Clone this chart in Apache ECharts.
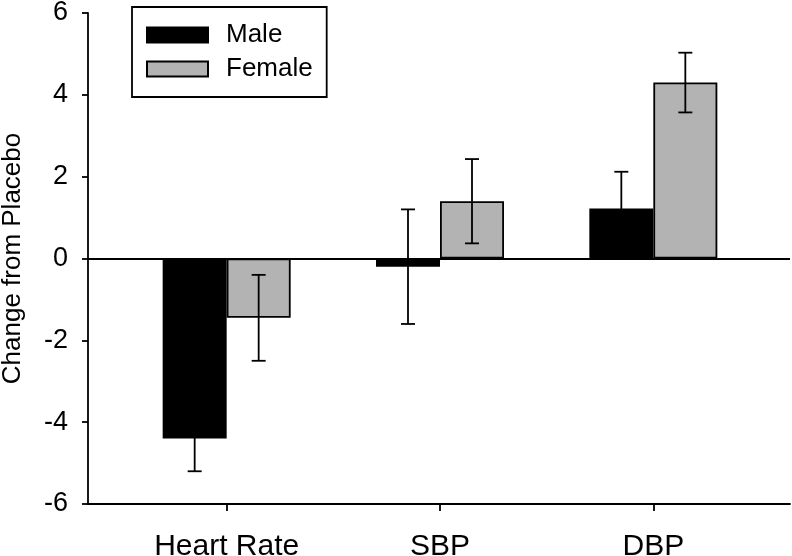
<!DOCTYPE html>
<html>
<head>
<meta charset="utf-8">
<script src="https://cdn.jsdelivr.net/npm/echarts@6/dist/echarts.min.js"></script>
<style>
  html, body { margin: 0; padding: 0; background: #fff; }
  #chart { width: 792px; height: 556px; }
</style>
</head>
<body>
<div id="chart"></div>
<script>
// data
const categories = ['Heart Rate', 'SBP', 'DBP']
const maleValues = [-4.4, -0.2, 1.22]
const maleErrors = [0.8, 1.4, 0.9]
const femaleValues = [-1.45, 1.4, 4.3]
const femaleErrors = [1.05, 1.03, 0.73]
const yMin = -6
const yMax = 6
const yStep = 2

const FONT = 'Liberation Sans, Arial, sans-serif'
const GRAY = '#b3b3b3'

// error bar drawn at the centre of one bar of the pair
const errorSeries = (name, means, errs, side) => ({
  name: name + ' err',
  type: 'custom',
  xAxisIndex: 1,
  yAxisIndex: 1,
  z: 5,
  data: means.map((m, i) => [i, m, errs[i]]),
  encode: { x: 0, y: 1 },
  renderItem: (params, api) => {
    const idx = api.value(0)
    const mean = api.value(1)
    const err = api.value(2)
    const band = api.size([1, 0])[0]
    const x = api.coord([idx, mean])[0] + side * band * 0.15
    const yTop = api.coord([idx, mean + err])[1]
    const yBot = api.coord([idx, mean - err])[1]
    const cap = 7
    const style = { stroke: '#000', lineWidth: 1.8 }
    return {
      type: 'group',
      children: [
        { type: 'line', shape: { x1: x, y1: yTop, x2: x, y2: yBot }, style },
        { type: 'line', shape: { x1: x - cap, y1: yTop, x2: x + cap, y2: yTop }, style },
        { type: 'line', shape: { x1: x - cap, y1: yBot, x2: x + cap, y2: yBot }, style }
      ]
    }
  }
})

const chart = echarts.init(document.getElementById('chart'))
chart.setOption({
  animation: false,
  backgroundColor: '#fff',
  textStyle: { fontFamily: FONT, color: '#000' },
  legend: {
    data: ['Male', 'Female'],
    orient: 'vertical',
    left: 132,
    top: 7,
    padding: [15, 14, 15, 14],
    itemGap: 8,
    itemWidth: 61,
    itemHeight: 15,
    borderColor: '#000',
    borderWidth: 1.8,
    icon: 'rect',
    textStyle: { fontFamily: FONT, fontSize: 26, color: '#000', padding: [0, 0, 0, 13] }
  },
  grid: [
    // frame grid: full-width axis lines
    { left: 88, right: 2, top: 13, bottom: 52, outerBoundsMode: 'none', containLabel: false },
    // data grid: category bands
    { left: 120, right: 32, top: 13, bottom: 52, outerBoundsMode: 'none', containLabel: false }
  ],
  xAxis: [
    {
      gridIndex: 0,
      type: 'value',
      min: 0,
      max: 1,
      axisLine: { show: true, onZero: false, lineStyle: { color: '#000', width: 1.8 } },
      axisTick: { show: false },
      axisLabel: { show: false },
      splitLine: { show: false }
    },
    {
      gridIndex: 1,
      type: 'category',
      data: categories,
      axisLine: { show: false, onZero: false },
      axisTick: { show: true, alignWithLabel: true, length: 7, lineStyle: { color: '#000', width: 1.8 } },
      axisLabel: { fontFamily: FONT, fontSize: 30, color: '#000', margin: 28 },
      splitLine: { show: false }
    }
  ],
  yAxis: [
    {
      gridIndex: 0,
      type: 'value',
      min: yMin,
      max: yMax,
      interval: yStep,
      name: 'Change from Placebo',
      nameLocation: 'middle',
      nameRotate: 90,
      nameGap: 62,
      nameTextStyle: { fontFamily: FONT, fontSize: 26, color: '#000' },
      axisLine: { show: true, lineStyle: { color: '#000', width: 1.8 } },
      axisTick: { show: true, length: 6, lineStyle: { color: '#000', width: 1.8 } },
      axisLabel: { fontFamily: FONT, fontSize: 27, color: '#000', margin: 20 },
      splitLine: { show: false }
    },
    {
      gridIndex: 1,
      type: 'value',
      min: yMin,
      max: yMax,
      interval: yStep,
      show: false
    }
  ],
  series: [
    {
      name: 'zero',
      type: 'line',
      xAxisIndex: 0,
      yAxisIndex: 0,
      data: [],
      silent: true,
      z: 6,
      markLine: {
        symbol: 'none',
        silent: true,
        label: { show: false },
        lineStyle: { color: '#000', width: 1.8, type: 'solid' },
        data: [{ yAxis: 0 }]
      }
    },
    {
      name: 'Male',
      type: 'bar',
      xAxisIndex: 1,
      yAxisIndex: 1,
      data: maleValues,
      barGap: '0%',
      barCategoryGap: '40%',
      itemStyle: { color: '#000', borderColor: '#000', borderWidth: 1.8 }
    },
    {
      name: 'Female',
      type: 'bar',
      xAxisIndex: 1,
      yAxisIndex: 1,
      data: femaleValues,
      barGap: '0%',
      barCategoryGap: '40%',
      itemStyle: { color: GRAY, borderColor: '#000', borderWidth: 1.8 }
    },
    errorSeries('Male', maleValues, maleErrors, -1),
    errorSeries('Female', femaleValues, femaleErrors, 1)
  ]
})
</script>
</body>
</html>
